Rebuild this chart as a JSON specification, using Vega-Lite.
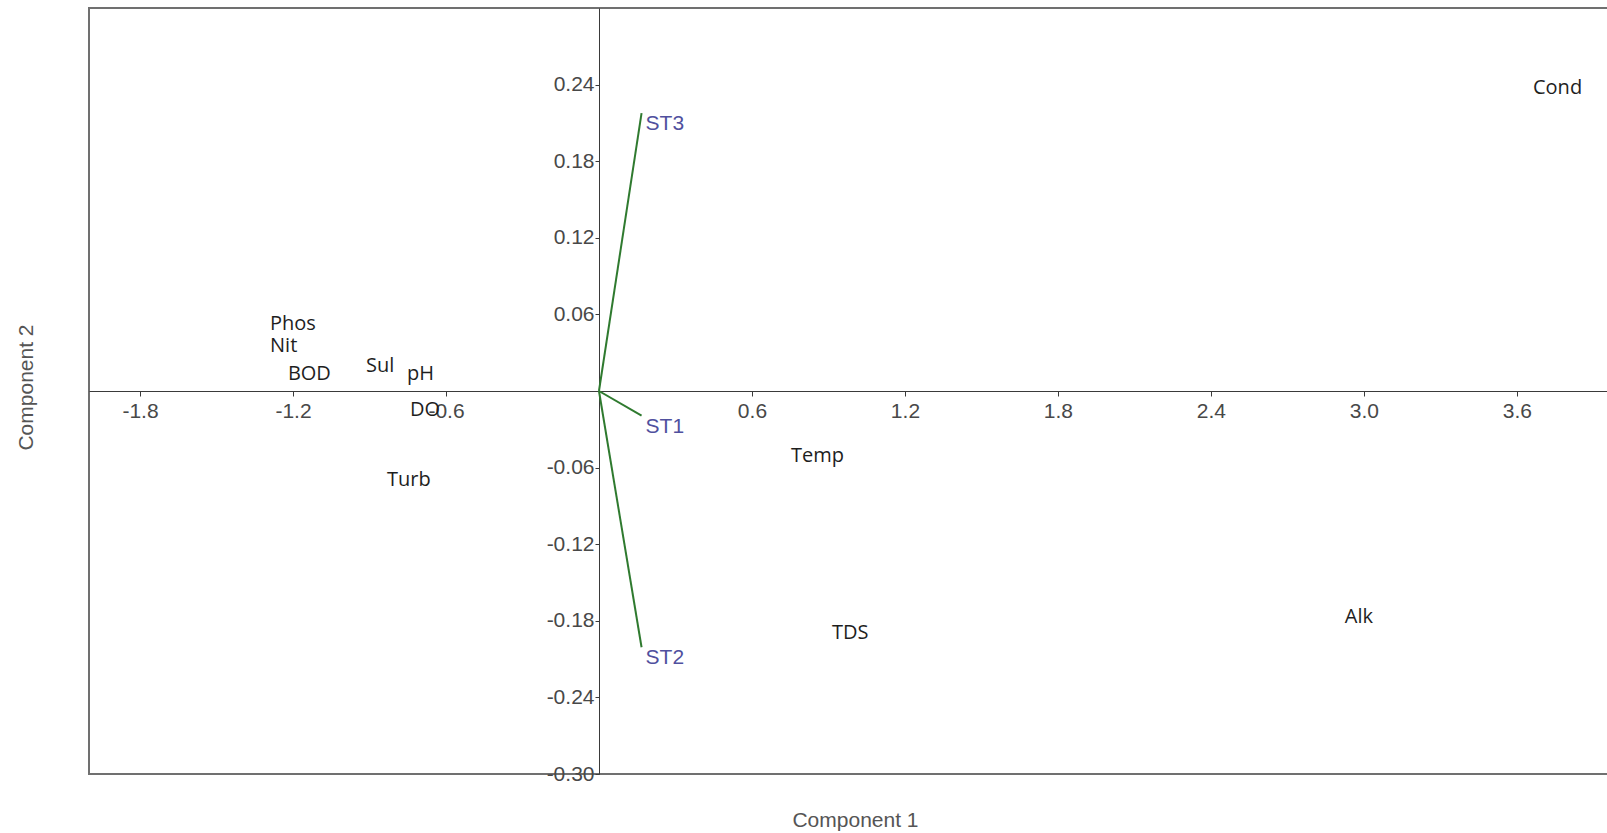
{
  "$schema": "https://vega.github.io/schema/vega-lite/v6.json",
  "width": 1521,
  "height": 766,
  "autosize": {"type": "none"},
  "padding": {"left": 89, "top": 8, "right": -3, "bottom": 59},
  "background": "white",
  "config": {
    "view": {"stroke": "#707070", "strokeWidth": 2},
    "axis": {
      "labelFont": "Liberation Sans",
      "labelFontSize": 21,
      "labelColor": "#484848",
      "titleFont": "Liberation Sans",
      "titleFontSize": 21,
      "titleColor": "#555555",
      "titleFontWeight": "normal",
      "domainColor": "#3a3a3a",
      "domainWidth": 1,
      "tickColor": "#3a3a3a",
      "grid": false,
      "labelOverlap": false,
      "labelFlush": false,
      "labelBound": false
    }
  },
  "datasets": {
    "variables": [
      {"variable": "Cond", "pc1": 3.663, "pc2": 0.233},
      {"variable": "Phos", "pc1": -1.29, "pc2": 0.0474},
      {"variable": "Nit", "pc1": -1.29, "pc2": 0.0302},
      {"variable": "BOD", "pc1": -1.22, "pc2": 0.009},
      {"variable": "Sul", "pc1": -0.914, "pc2": 0.0145},
      {"variable": "pH", "pc1": -0.753, "pc2": 0.009},
      {"variable": "DO", "pc1": -0.741, "pc2": -0.0192},
      {"variable": "Turb", "pc1": -0.831, "pc2": -0.0748},
      {"variable": "Temp", "pc1": 0.753, "pc2": -0.056},
      {"variable": "TDS", "pc1": 0.914, "pc2": -0.1946},
      {"variable": "Alk", "pc1": 2.925, "pc2": -0.182}
    ],
    "stations": [
      {"station": "ST1", "pc1": 0.167, "pc2": -0.0192},
      {"station": "ST2", "pc1": 0.167, "pc2": -0.2007},
      {"station": "ST3", "pc1": 0.167, "pc2": 0.2176}
    ]
  },
  "layer": [
    {
      "data": {"name": "stations"},
      "mark": {"type": "rule", "color": "#2f7a2f", "strokeWidth": 2},
      "encoding": {
        "x": {"field": "pc1", "type": "quantitative",
          "scale": {"domain": [-2.0, 3.965], "nice": false, "zero": false},
          "axis": {"title": "Component 1", "orient": "bottom", "offset": -383,
            "values": [-1.8, -1.2, -0.6, 0.6, 1.2, 1.8, 2.4, 3.0, 3.6],
            "labelExpr": "replace(format(datum.value, '.1f'), '\u2212', '-')",
            "tickSize": 5, "labelPadding": 4,
            "titleX": 766, "titleY": 429, "titleAlign": "center", "titleBaseline": "middle"}},
        "y": {"field": "pc2", "type": "quantitative",
          "scale": {"domain": [-0.3, 0.3], "nice": false, "zero": false},
          "axis": {"title": "Component 2", "orient": "left", "offset": -510,
            "values": [0.24, 0.18, 0.12, 0.06, -0.06, -0.12, -0.18, -0.24, -0.3],
            "labelExpr": "replace(format(datum.value, '.2f'), '\u2212', '-')",
            "tickSize": 4, "labelPadding": 1,
            "titleX": -573, "titleY": 379, "titleAngle": 270, "titleAlign": "center", "titleBaseline": "middle"}},
        "x2": {"datum": 0},
        "y2": {"datum": 0}
      }
    },
    {
      "data": {"name": "stations"},
      "mark": {"type": "text", "align": "left", "baseline": "alphabetic", "dx": 4, "dy": 17,
        "font": "Liberation Sans", "fontSize": 21, "color": "#50509e"},
      "encoding": {
        "x": {"field": "pc1", "type": "quantitative",
          "axis": {"title": "Component 1", "orient": "bottom", "offset": -383,
            "values": [-1.8, -1.2, -0.6, 0.6, 1.2, 1.8, 2.4, 3.0, 3.6],
            "labelExpr": "replace(format(datum.value, '.1f'), '\u2212', '-')",
            "tickSize": 5, "labelPadding": 4,
            "titleX": 766, "titleY": 429, "titleAlign": "center", "titleBaseline": "middle"}},
        "y": {"field": "pc2", "type": "quantitative",
          "axis": {"title": "Component 2", "orient": "left", "offset": -510,
            "values": [0.24, 0.18, 0.12, 0.06, -0.06, -0.12, -0.18, -0.24, -0.3],
            "labelExpr": "replace(format(datum.value, '.2f'), '\u2212', '-')",
            "tickSize": 4, "labelPadding": 1,
            "titleX": -573, "titleY": 379, "titleAngle": 270, "titleAlign": "center", "titleBaseline": "middle"}},
        "text": {"field": "station"}
      }
    },
    {
      "data": {"name": "variables"},
      "mark": {"type": "text", "align": "left", "baseline": "alphabetic",
        "font": "Open Sans", "fontSize": 20, "color": "#1e1e1e"},
      "encoding": {
        "x": {"field": "pc1", "type": "quantitative",
          "axis": {"title": "Component 1", "orient": "bottom", "offset": -383,
            "values": [-1.8, -1.2, -0.6, 0.6, 1.2, 1.8, 2.4, 3.0, 3.6],
            "labelExpr": "replace(format(datum.value, '.1f'), '\u2212', '-')",
            "tickSize": 5, "labelPadding": 4,
            "titleX": 766, "titleY": 429, "titleAlign": "center", "titleBaseline": "middle"}},
        "y": {"field": "pc2", "type": "quantitative",
          "axis": {"title": "Component 2", "orient": "left", "offset": -510,
            "values": [0.24, 0.18, 0.12, 0.06, -0.06, -0.12, -0.18, -0.24, -0.3],
            "labelExpr": "replace(format(datum.value, '.2f'), '\u2212', '-')",
            "tickSize": 4, "labelPadding": 1,
            "titleX": -573, "titleY": 379, "titleAngle": 270, "titleAlign": "center", "titleBaseline": "middle"}},
        "text": {"field": "variable"}
      }
    }
  ]
}
